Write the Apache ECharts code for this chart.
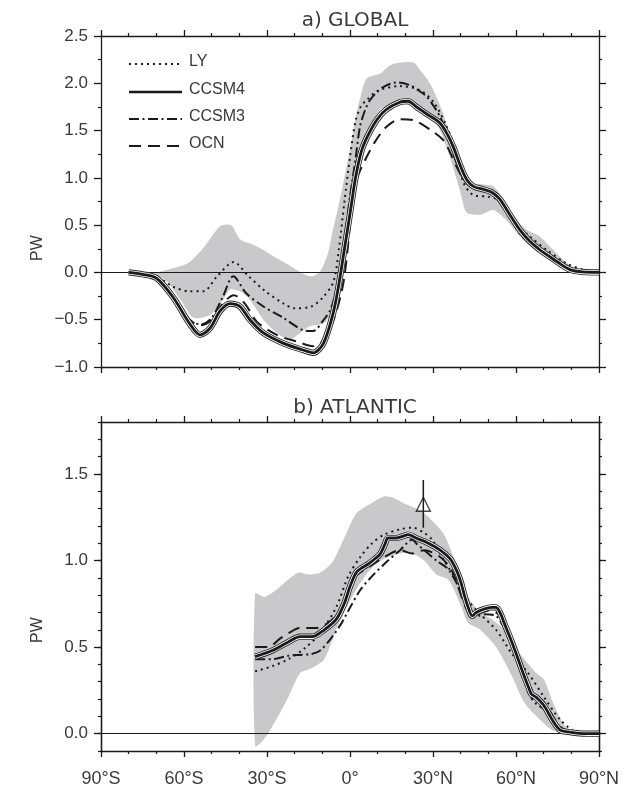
<!DOCTYPE html>
<html><head><meta charset="utf-8">
<script src="https://cdn.jsdelivr.net/npm/echarts@6/dist/echarts.min.js"></script>
<style>html,body{margin:0;padding:0;background:#fff}#c{width:628px;height:788px}</style>
</head><body><div id="c"></div>
<script>
// ---------- tick labels ----------
const xTickValues = [-90, -60, -30, 0, 30, 60, 90];
const xTickLabels = ['90°S', '60°S', '30°S', '0°', '30°N', '60°N', '90°N'];
const yMajorB = [0, 0.5, 1.0, 1.5];
const yMinorB = [-0.1, 0, 0.1, 0.2, 0.3, 0.4, 0.5, 0.6, 0.7, 0.8, 0.9, 1.0, 1.1, 1.2, 1.3, 1.4, 1.5, 1.6, 1.7, 1.8];
const legendNames = ['LY', 'CCSM4', 'CCSM3', 'OCN'];

// ---------- a) GLOBAL ----------
const gLY_lat = [-80,-75,-70,-64,-58,-53,-48,-42,-37,-31,-24,-20,-14,-10,-6,-4,-2,0,2,4,6,10,18,25,30,35,38.5,41,44.5,50,54,58,61,65,71,78,84,90];
const gLY_val = [0,-0.01,-0.04,-0.15,-0.20,-0.20,-0.04,0.11,-0.03,-0.19,-0.33,-0.38,-0.36,-0.27,-0.10,0.25,0.75,1.22,1.6,1.76,1.82,1.92,1.97,1.93,1.81,1.54,1.26,0.95,0.82,0.80,0.76,0.60,0.48,0.38,0.24,0.10,0.03,0];

const gC4_lat = [-80,-75,-70,-64,-58,-54.2,-50.6,-47,-43.4,-39.8,-36.2,-31.3,-24,-17,-13.3,-9.6,-6,-4,-2,0,2,4,6,9.6,13,18,21,24,28,32.5,35,37.3,40,42.2,44.6,48,51,54,58,61.4,65,68.6,72,75,79.5,84,90];
const gC4_val = [0,-0.02,-0.06,-0.26,-0.54,-0.66,-0.59,-0.41,-0.33,-0.36,-0.50,-0.64,-0.75,-0.82,-0.85,-0.75,-0.42,-0.12,0.25,0.62,1.0,1.27,1.42,1.61,1.72,1.80,1.81,1.75,1.67,1.58,1.47,1.33,1.12,0.98,0.91,0.88,0.85,0.78,0.6,0.45,0.33,0.24,0.17,0.11,0.03,0.005,0];

const gC3_lat = [-80,-70,-64,-58,-54,-50,-46,-42.2,-37.5,-31.3,-24.1,-16.9,-13.3,-10,-7.2,-5,-3.6,-2,0,2,3.6,5.5,7.2,9.5,12,16.9,21.7,24.5,27.7,30,32.5,35,37.3,39.5,42.2,46,49.4,54.2,58,61.4,65,68.6,72,75,78,82,90];
const gC3_val = [0,-0.06,-0.25,-0.50,-0.55,-0.48,-0.26,-0.04,-0.22,-0.36,-0.48,-0.61,-0.62,-0.52,-0.40,-0.20,0.0,0.35,0.80,1.20,1.54,1.72,1.82,1.90,1.96,2.01,1.98,1.93,1.86,1.77,1.65,1.47,1.26,1.08,0.94,0.89,0.87,0.77,0.58,0.41,0.31,0.24,0.16,0.10,0.05,0.01,0];

const gOC_lat = [-80,-70,-64,-58,-54,-50,-46,-42,-38,-33.7,-26.5,-19.3,-13.3,-10,-7,-5,-3,-1.8,0,1,2,4,6,9,13.2,18.1,22.9,28.9,33.7,36,38.5,42.2,46,50,54,58,62,66.2,70,74,78.3,82,90];
const gOC_val = [0,-0.06,-0.25,-0.50,-0.56,-0.50,-0.33,-0.24,-0.33,-0.52,-0.66,-0.73,-0.78,-0.73,-0.58,-0.42,-0.20,0.0,0.50,0.80,0.95,1.10,1.22,1.38,1.54,1.62,1.61,1.51,1.40,1.28,1.12,0.94,0.88,0.86,0.76,0.58,0.42,0.29,0.20,0.12,0.06,0.02,0];

const gBandHi_lat = [-80,-70,-65.7,-58.5,-52.7,-46.9,-42.9,-39.7,-33.9,-28.1,-22.3,-16.6,-13.7,-10.8,-8,-6.4,-4,-2.1,0,2.2,4,6,10.8,14.5,18,23,25.3,28,30.1,33.7,37.3,41,44.6,48,51.8,56.6,60,63.9,68.6,73.4,78.3,83.1,87,90];
const gBandHi_val = [0,0,0.03,0.10,0.27,0.49,0.50,0.35,0.28,0.18,0.08,-0.02,-0.04,0.01,0.2,0.42,0.72,0.99,1.3,1.66,1.88,2.05,2.1,2.19,2.22,2.22,2.14,2.04,1.93,1.68,1.29,0.98,0.94,0.93,0.91,0.73,0.56,0.45,0.38,0.24,0.10,0.03,0.005,0];
const gBandLo_lat = [-80,-70,-66,-61,-56.6,-50.6,-45.8,-43.4,-39.8,-36.2,-31.3,-26.5,-21.7,-18,-14.5,-9.6,-6,-3.6,-2.6,-1,1.2,3.5,6,10.8,16.9,22.9,28.9,32.5,36.1,39.7,42.2,47,51.8,56.6,61.4,65,68.6,73.4,78.3,84,90];
const gBandLo_val = [0,-0.03,-0.1,-0.3,-0.48,-0.45,-0.29,-0.18,-0.20,-0.29,-0.5,-0.64,-0.71,-0.64,-0.57,-0.54,-0.40,-0.08,0.03,0.4,0.77,1.12,1.40,1.72,1.79,1.75,1.65,1.51,1.22,0.87,0.63,0.61,0.66,0.55,0.38,0.28,0.2,0.12,0.03,0,0];

// ---------- b) ATLANTIC ----------
const aLY_lat = [-34.3,-28.1,-22.3,-16.6,-10.8,-5,-0.6,3.7,8,12.4,18.1,22.5,26.8,29.7,34,38.4,42.7,47.1,52.8,58.6,64.4,70.2,76,81.7,88,90];
const aLY_val = [0.36,0.39,0.43,0.49,0.58,0.73,0.91,1.02,1.10,1.15,1.18,1.19,1.16,1.12,1.00,0.89,0.77,0.69,0.60,0.46,0.35,0.21,0.08,0.01,0,0];

const aC4_lat = [-34.3,-28.1,-22.3,-18,-13.7,-9.3,-5,-2.1,0,2.2,4.5,6.6,9,11,12.5,13.8,16.7,19,21,23.9,28.3,32.6,36.2,38,39.8,41.5,42.7,44.2,45.6,48.5,51,52.8,54.5,55.7,58,60.1,63,64.5,65.5,67.3,70.2,73.1,76,78.9,82,86,90];
const aC4_val = [0.445,0.48,0.53,0.56,0.56,0.60,0.66,0.75,0.85,0.93,0.96,0.98,1.01,1.04,1.09,1.13,1.13,1.14,1.15,1.13,1.10,1.06,1.01,0.96,0.89,0.79,0.73,0.68,0.70,0.72,0.73,0.73,0.69,0.64,0.55,0.46,0.33,0.27,0.23,0.21,0.16,0.08,0.02,0.01,0.003,0,0];

const aC3_lat = [-34.3,-28.1,-22.3,-18,-14,-10.8,-6.4,-3,-0.6,3.7,8,12.4,18.1,22.5,24.5,26.8,31.2,35.5,39.8,42,44.2,46,48.5,52.8,55,57.2,61.5,63.5,65.8,67.5,70.2,73,76,80.3,85,90];
const aC3_val = [0.43,0.43,0.45,0.455,0.46,0.48,0.56,0.64,0.71,0.83,0.91,0.98,1.06,1.12,1.09,1.06,1.00,0.95,0.83,0.74,0.68,0.68,0.69,0.68,0.63,0.56,0.39,0.30,0.20,0.17,0.14,0.08,0.03,0.005,0,0];

const aOC_lat = [-34.3,-29.6,-25.2,-22.3,-18,-12.2,-7.9,-3.5,0.8,6.6,12.4,18.1,22.5,26.8,32.6,36.9,41.3,44.2,50,54.4,58.6,61.5,65.8,70.2,76,80,85,90];
const aOC_val = [0.50,0.50,0.55,0.58,0.61,0.61,0.64,0.71,0.89,0.96,1.02,1.06,1.04,1.06,1.02,0.94,0.75,0.68,0.71,0.68,0.52,0.39,0.25,0.18,0.04,0.01,0,0];

const aBandHi_lat = [-34.3,-31,-26.7,-22.3,-18.7,-15.1,-10.8,-6.4,-2.1,2.2,6.6,12.4,16,19.6,25.4,29.7,34,38.4,42.7,47.1,51.4,55.7,61.5,67.3,70.2,73.1,76,78.9,83.2,90];
const aBandHi_val = [0.81,0.79,0.83,0.89,0.93,0.92,0.93,0.99,1.13,1.27,1.32,1.37,1.36,1.33,1.29,1.23,1.15,0.98,0.79,0.70,0.66,0.60,0.46,0.35,0.31,0.19,0.09,0.02,0.0,0];
const aBandLo_lat = [-34.3,-31,-26.7,-22.3,-18,-13.7,-9.3,-5,-0.6,3.7,8,12.4,18.1,22.5,26.8,31.2,35.5,39.8,42.7,47.1,52.8,58.6,63,68.7,73.1,78.9,83.2,90];
const aBandLo_val = [-0.07,-0.03,0.08,0.21,0.35,0.38,0.43,0.60,0.75,0.87,0.96,1.01,1.04,1.04,1.00,0.92,0.89,0.75,0.64,0.60,0.50,0.33,0.18,0.08,0.02,0.0,0.0,0];

// observation (triangle with error bar)
const obsLat = [26.5];
const obsVal = [1.325];
const obsErrLow = [1.19];
const obsErrHigh = [1.465];

// ---------- build ----------
const FONT = '"Liberation Sans", Arial, sans-serif';
const TFONT = '"DejaVu Sans", "Liberation Sans", sans-serif';
const INK = '#1a1a1a';
const TXT = '#3a3a3a';
const BAND = '#c9c9cb';
const pairs = (la, va) => la.map((x, i) => [x, va[i]]);

function xAx(gi, pos, labels) {
  return {
    type: 'value', gridIndex: gi, position: pos, min: -90, max: 90, interval: 30,
    axisLine: {show: true, onZero: false, lineStyle: {color: INK, width: 1.3}},
    axisTick: {show: true, inside: false, length: 6, lineStyle: {color: INK, width: 1.3}},
    minorTick: {show: true, splitNumber: 3, length: 3, lineStyle: {color: INK, width: 1.2}},
    axisLabel: {show: labels, margin: 19, fontSize: 18, color: TXT, fontFamily: FONT,
      formatter: v => { const k = xTickValues.indexOf(v); return k < 0 ? '' : xTickLabels[k]; }},
    splitLine: {show: false}, minorSplitLine: {show: false}
  };
}
const fmtY = v => (v < 0 ? '\u2212' : '') + Math.abs(v).toFixed(1);
function yAxTop(pos, labels) {
  return {
    type: 'value', gridIndex: 0, position: pos, min: -1, max: 2.5, interval: 0.5,
    axisLine: {show: true, onZero: false, lineStyle: {color: INK, width: 1.3}},
    axisTick: {show: true, inside: false, length: 7, lineStyle: {color: INK, width: 1.3}},
    minorTick: {show: true, splitNumber: 2, length: 3, lineStyle: {color: INK, width: 1.2}},
    axisLabel: {show: labels, margin: 13, fontSize: 17, color: TXT, fontFamily: FONT, formatter: fmtY},
    splitLine: {show: false}, minorSplitLine: {show: false}
  };
}
function yAxBot(pos, major, labels) {
  return {
    type: 'value', gridIndex: 1, position: pos, min: -0.1, max: 1.8,
    axisLine: {show: true, onZero: false, lineStyle: {color: INK, width: 1.3}},
    axisTick: {show: true, inside: false, length: major ? 7 : 3, customValues: major ? yMajorB : yMinorB,
      lineStyle: {color: INK, width: major ? 1.3 : 1.2}},
    axisLabel: {show: labels, margin: 13, fontSize: 17, color: TXT, fontFamily: FONT, formatter: fmtY,
      customValues: yMajorB},
    splitLine: {show: false}
  };
}

function bandSeries(xi, yi, hiLat, hiVal, loLat, loVal) {
  const hi = pairs(hiLat, hiVal), lo = pairs(loLat, loVal);
  return {
    type: 'custom', xAxisIndex: xi, yAxisIndex: yi, z: 1, silent: true,
    data: hi,
    renderItem: (params, api) => {
      if (params.dataIndex !== 0) return null;
      const pts = hi.map(p => api.coord(p)).concat(lo.slice().reverse().map(p => api.coord(p)));
      return {type: 'polygon', shape: {points: pts, smooth: 0.25}, style: {fill: BAND, stroke: null}};
    }
  };
}
function line(name, xi, yi, la, va, ls, z) {
  return {type: 'line', name, xAxisIndex: xi, yAxisIndex: yi, data: pairs(la, va), symbol: 'none',
    smooth: 0.3, lineStyle: Object.assign({color: INK, cap: 'butt'}, ls), z, silent: true};
}
const LY_STYLE = {width: 2, type: [2, 4]};
const C3_STYLE = {width: 2, type: [10, 3.5, 2, 3.5]};
const OC_STYLE = {width: 2, type: [12, 7]};

function panelSeries(xi, yi, d) {
  const s = [
    bandSeries(xi, yi, d.bhL, d.bhV, d.blL, d.blV),
    line('LY', xi, yi, d.lyL, d.lyV, LY_STYLE, 5),
    line('CCSM3', xi, yi, d.c3L, d.c3V, C3_STYLE, 6),
    line('OCN', xi, yi, d.ocL, d.ocV, OC_STYLE, 7),
    line('CCSM4 env', xi, yi, d.c4L, d.c4V, {width: 6.2, color: '#2a2a2a'}, 8),
    line('CCSM4 gap', xi, yi, d.c4L, d.c4V, {width: 4.4, color: '#ffffff'}, 9),
    line('CCSM4', xi, yi, d.c4L, d.c4V, {width: 2.8}, 10)
  ];
  s[6].markLine = {silent: true, symbol: ['none', 'none'], label: {show: false},
    lineStyle: {color: INK, width: 1, type: 'solid'}, data: [{yAxis: 0}]};
  return s;
}

const series = [].concat(
  panelSeries(0, 0, {bhL: gBandHi_lat, bhV: gBandHi_val, blL: gBandLo_lat, blV: gBandLo_val,
    lyL: gLY_lat, lyV: gLY_val, c3L: gC3_lat, c3V: gC3_val, ocL: gOC_lat, ocV: gOC_val, c4L: gC4_lat, c4V: gC4_val}),
  panelSeries(2, 2, {bhL: aBandHi_lat, bhV: aBandHi_val, blL: aBandLo_lat, blV: aBandLo_val,
    lyL: aLY_lat, lyV: aLY_val, c3L: aC3_lat, c3V: aC3_val, ocL: aOC_lat, ocV: aOC_val, c4L: aC4_lat, c4V: aC4_val}),
  [
    {type: 'line', name: 'obs err', xAxisIndex: 2, yAxisIndex: 2, symbol: 'none', silent: true, z: 12,
      data: [[obsLat[0], obsErrLow[0]], [obsLat[0], obsErrHigh[0]]], lineStyle: {color: INK, width: 1.5}},
    {type: 'scatter', name: 'obs', xAxisIndex: 2, yAxisIndex: 2, silent: true, z: 13,
      data: pairs(obsLat, obsVal), symbol: 'triangle', symbolSize: [14, 14],
      itemStyle: {color: 'rgba(0,0,0,0)', borderColor: INK, borderWidth: 1.4}}
  ]
);

// legend drawn as graphic (line samples + real text)
const legendY = [64, 92, 119, 146];
const legendStyles = [
  {lineWidth: 2, lineDash: [2, 4]},
  {lineWidth: 2.6},
  {lineWidth: 2, lineDash: [10, 3.5, 2, 3.5]},
  {lineWidth: 2, lineDash: [12, 7]}
];
const graphic = [];
legendNames.forEach((n, i) => {
  graphic.push({type: 'line', shape: {x1: 129, y1: legendY[i], x2: 182, y2: legendY[i]},
    style: Object.assign({stroke: INK}, legendStyles[i]), silent: true});
  graphic.push({type: 'text', x: 189, y: legendY[i] - 2, silent: true,
    style: {text: n, fill: TXT, font: '16px ' + FONT, textVerticalAlign: 'middle', verticalAlign: 'middle'}});
});
graphic.push({type: 'text', x: 38, y: 248, rotation: Math.PI / 2, silent: true,
  style: {text: 'PW', fill: TXT, font: '16px ' + FONT, align: 'center', verticalAlign: 'middle', textAlign: 'center', textVerticalAlign: 'middle'}});
graphic.push({type: 'text', x: 38, y: 630, rotation: Math.PI / 2, silent: true,
  style: {text: 'PW', fill: TXT, font: '16px ' + FONT, align: 'center', verticalAlign: 'middle', textAlign: 'center', textVerticalAlign: 'middle'}});

const option = {
  animation: false,
  backgroundColor: '#ffffff',
  title: [
    {text: 'a) GLOBAL', left: 350, top: 6, textAlign: 'center',
      textStyle: {fontSize: 20, fontWeight: 'normal', color: TXT, fontFamily: TFONT}},
    {text: 'b) ATLANTIC', left: 350, top: 393, textAlign: 'center',
      textStyle: {fontSize: 20, fontWeight: 'normal', color: TXT, fontFamily: TFONT}}
  ],
  grid: [
    {left: 101, top: 36, width: 498, height: 331, containLabel: false},
    {left: 101, top: 422, width: 498, height: 330, containLabel: false}
  ],
  xAxis: [xAx(0, 'bottom', false), xAx(0, 'top', false), xAx(1, 'bottom', true), xAx(1, 'top', false)],
  yAxis: [yAxTop('left', true), yAxTop('right', false),
    yAxBot('left', true, true), yAxBot('left', false, false),
    yAxBot('right', true, false), yAxBot('right', false, false)],
  series,
  graphic
};
const chart = echarts.init(document.getElementById('c'), null, {renderer: 'canvas'});
chart.setOption(option);
</script></body></html>
